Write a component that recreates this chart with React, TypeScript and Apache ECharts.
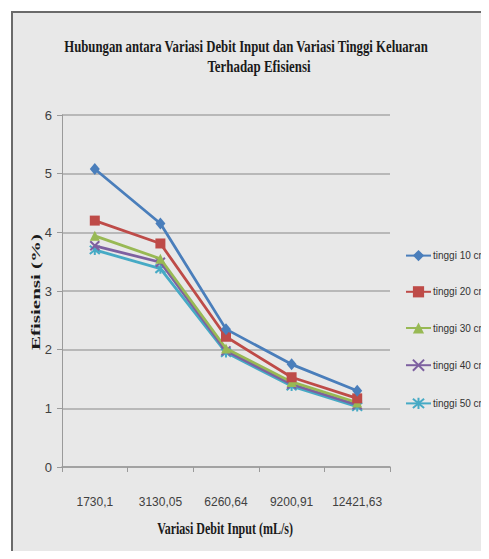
import React, { useEffect, useRef } from "react";
import * as echarts from "echarts";

const categories = ["1730,1", "3130,05", "6260,64", "9200,91", "12421,63"];
const seriesNames = ["tinggi 10 cm", "tinggi 20 cm", "tinggi 30 cm", "tinggi 40 cm", "tinggi 50 cm"];
const tinggi10 = [5.08, 4.15, 2.35, 1.75, 1.3];
const tinggi20 = [4.2, 3.81, 2.22, 1.53, 1.17];
const tinggi30 = [3.94, 3.55, 2.02, 1.45, 1.1];
const tinggi40 = [3.77, 3.49, 1.98, 1.41, 1.06];
const tinggi50 = [3.7, 3.38, 1.95, 1.38, 1.03];
const titleLines = ["Hubungan antara Variasi Debit Input dan Variasi Tinggi Keluaran", "Terhadap Efisiensi"];
const xAxisName = "Variasi Debit Input (mL/s)";
const yAxisName = "Efisiensi (%)";

const colors = ["#4A7EBB", "#BE4B48", "#98B954", "#7D60A0", "#46AAC5"];
const symbols = [
  "diamond",
  "rect",
  "triangle",
  "path://M0,0L10,10M10,0L0,10",
  "path://M0,0L10,10M10,0L0,10M5,-1L5,11",
];
const symbolSizes: any[] = [[10, 12], 10, 10, 9, 10];
const sans = "'Liberation Sans', Arial, sans-serif";
const serif = "'Liberation Serif', 'Times New Roman', serif";

export default function App() {
  const ref = useRef<HTMLDivElement>(null);
  useEffect(() => {
    if (!ref.current) return;
    const chart = echarts.init(ref.current, undefined, { renderer: "svg" });
    const allData = [tinggi10, tinggi20, tinggi30, tinggi40, tinggi50];
    const boldText = (text: string, x: number, y: number, size: number, sx: number, extra: any = {}) => ({
      type: "text",
      x,
      y,
      scaleX: sx,
      ...extra,
      style: {
        text,
        fontSize: size,
        fontWeight: "bold",
        fontFamily: serif,
        fill: "#1a1a1a",
        align: "center",
        verticalAlign: "middle",
      },
    });
    chart.setOption({
      animation: false,
      backgroundColor: "#ffffff",
      graphic: [
        {
          type: "rect",
          z: -10,
          shape: { x: 4, y: 4, width: 700, height: 700 },
          style: { fill: "#e8e8e8", stroke: "#6a6a6a", lineWidth: 2 },
        },
        boldText(titleLines[0], 238, 38, 17, 0.75),
        boldText(titleLines[1], 251, 58, 17, 0.76),
        boldText(xAxisName, 217, 520, 16, 0.75),
        boldText(yAxisName, 28, 284, 14, 1.5, { rotation: Math.PI / 2, scaleY: 0.85 }),
      ],
      grid: { left: 54, top: 107, width: 328, height: 352, containLabel: false },
      legend: {
        orient: "vertical",
        left: 397,
        top: 242,
        padding: 0,
        itemGap: 25,
        itemWidth: 25,
        itemHeight: 14,
        data: seriesNames,
        textStyle: { fontSize: 10, fontFamily: sans, color: "#333333", padding: [0, 0, 0, -3] },
      },
      xAxis: {
        type: "category",
        data: categories,
        boundaryGap: true,
        axisLine: { lineStyle: { color: "#9a9a9a", width: 1.5 } },
        axisTick: { show: true, length: 5, lineStyle: { color: "#9a9a9a", width: 1 } },
        axisLabel: { interval: 0, margin: 29, fontSize: 12, fontFamily: sans, color: "#404040" },
      },
      yAxis: {
        type: "value",
        min: 0,
        max: 6,
        interval: 1,
        axisLine: { show: true, lineStyle: { color: "#9a9a9a", width: 1 } },
        axisTick: { show: true, length: 5, lineStyle: { color: "#9a9a9a", width: 1 } },
        axisLabel: { margin: 10, fontSize: 13, fontFamily: sans, color: "#404040" },
        splitLine: { show: true, lineStyle: { color: "#a8a8a8", width: 1.5 } },
      },
      series: allData.map((d, i) => ({
        type: "line",
        name: seriesNames[i],
        data: d,
        symbol: symbols[i],
        symbolSize: symbolSizes[i],
        showSymbol: true,
        lineStyle: { color: colors[i], width: 2.8 },
        itemStyle: { color: colors[i], borderColor: colors[i], borderWidth: i >= 3 ? 2 : 0 },
        z: 10 - i,
      })),
    });
    return () => chart.dispose();
  }, []);
  return <div ref={ref} style={{ width: 481, height: 551, marginBottom: -8 }} />;
}
